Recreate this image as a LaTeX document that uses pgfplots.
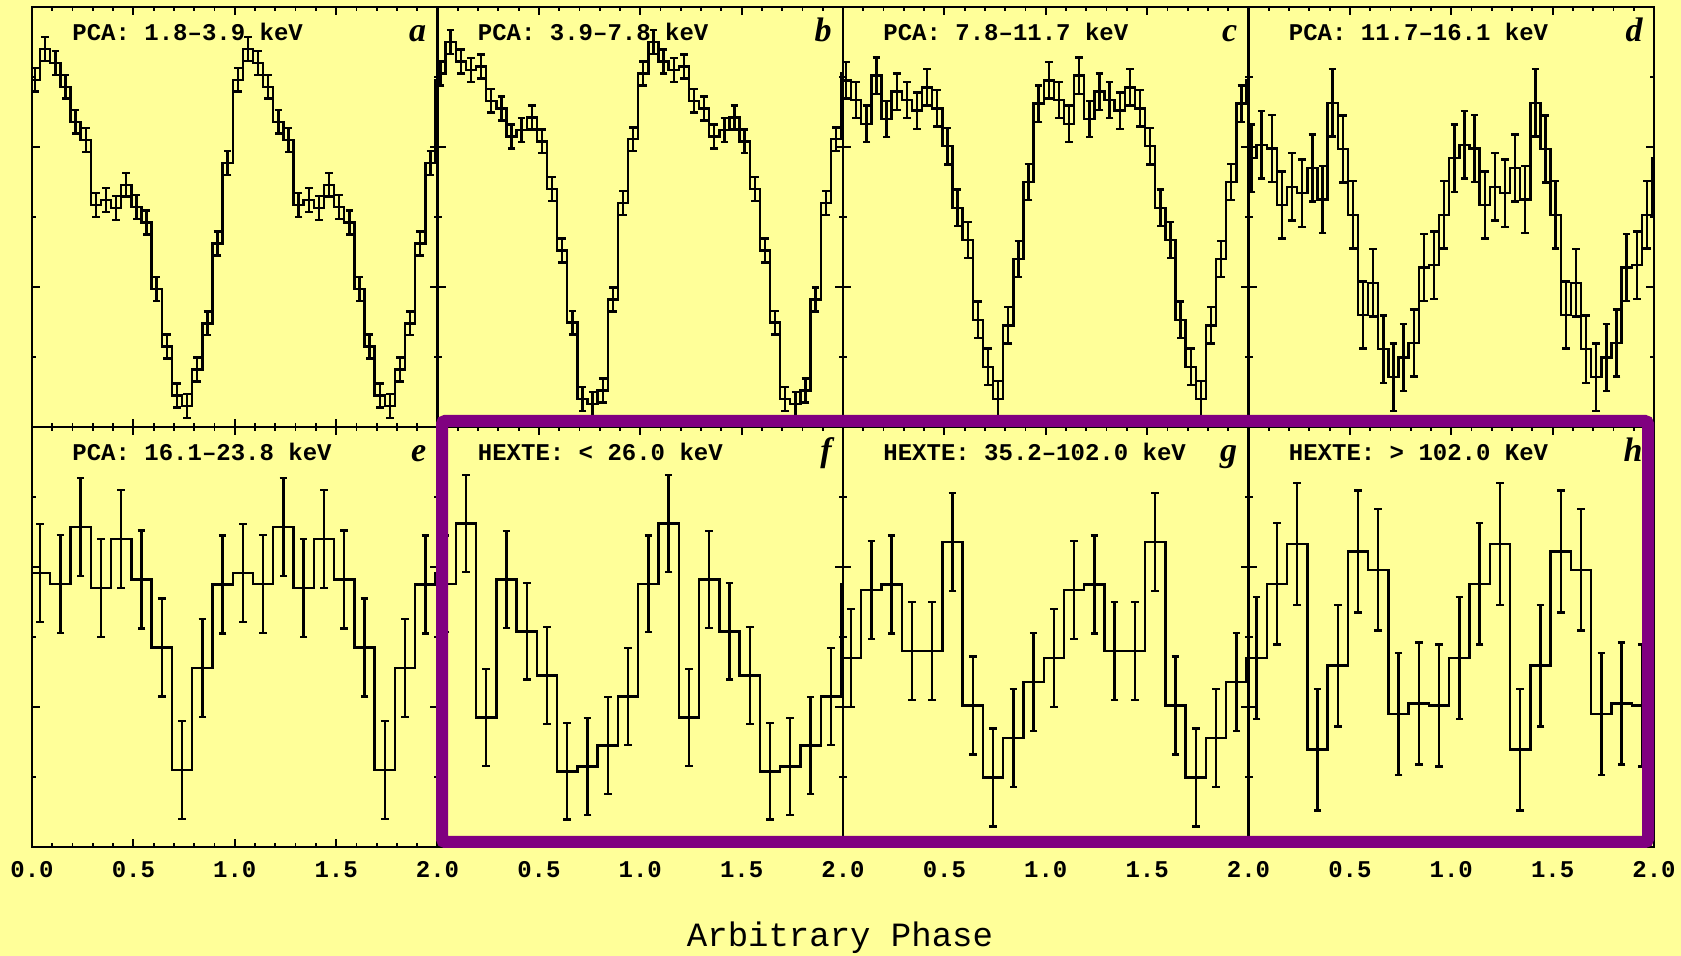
\documentclass[border=0pt]{standalone}
\usepackage{pgfplots}
\pgfplotsset{compat=1.18}
\usepackage{pgfplotstable}
\usepackage{fontspec}
\setmainfont{Liberation Mono}
\newfontfamily\lserif{Liberation Serif}
\definecolor{bgyel}{RGB}{255,255,153}
\definecolor{boxpurple}{RGB}{128,0,128}

% PCA panels a-d: 20 bins per cycle, two cycles (l = left bin edge, c = bin centre)
\pgfplotstableread{
l    c     ya   ea   yb   eb   yc   ec   yd   ed
0    0.015 4.96 0.17 5.05 0.17 4.95 0.26 3.84 0.48
0.04 0.065 5.40 0.17 5.50 0.17 4.67 0.26 4.03 0.48
0.09 0.115 5.20 0.17 5.22 0.17 4.33 0.26 3.98 0.48
0.14 0.165 4.86 0.17 5.10 0.17 5.02 0.26 3.17 0.48
0.19 0.215 4.36 0.17 5.15 0.17 4.40 0.26 3.43 0.48
0.24 0.265 4.10 0.17 4.66 0.17 4.79 0.26 3.34 0.48
0.29 0.315 3.17 0.17 4.55 0.17 4.67 0.26 3.70 0.48
0.34 0.365 3.24 0.17 4.15 0.17 4.52 0.26 3.25 0.48
0.39 0.415 3.13 0.17 4.24 0.17 4.85 0.26 4.63 0.48
0.44 0.465 3.46 0.17 4.42 0.17 4.55 0.26 3.97 0.48
0.49 0.515 3.14 0.17 4.08 0.17 4.01 0.26 3.03 0.48
0.54 0.565 2.92 0.17 3.40 0.17 3.13 0.26 1.60 0.48
0.59 0.615 1.97 0.17 2.52 0.17 2.67 0.26 2.06 0.48
0.64 0.665 1.15 0.17 1.49 0.17 1.53 0.26 1.11 0.48
0.69 0.715 0.45 0.17 0.40 0.17 0.86 0.26 0.71 0.48
0.74 0.765 0.30 0.17 0.33 0.17 0.40 0.26 0.99 0.48
0.79 0.815 0.82 0.17 0.52 0.17 1.45 0.26 1.20 0.48
0.84 0.865 1.48 0.17 1.82 0.17 2.40 0.26 2.28 0.48
0.89 0.915 2.62 0.17 3.20 0.17 3.50 0.26 2.31 0.48
0.94 0.965 3.77 0.17 4.11 0.17 4.62 0.26 3.03 0.48
0.99 1.015 4.96 0.17 5.05 0.17 4.95 0.26 3.84 0.48
1.04 1.065 5.40 0.17 5.50 0.17 4.67 0.26 4.03 0.48
1.09 1.115 5.20 0.17 5.22 0.17 4.33 0.26 3.98 0.48
1.14 1.165 4.86 0.17 5.10 0.17 5.02 0.26 3.17 0.48
1.19 1.215 4.36 0.17 5.15 0.17 4.40 0.26 3.43 0.48
1.24 1.265 4.10 0.17 4.66 0.17 4.79 0.26 3.34 0.48
1.29 1.315 3.17 0.17 4.55 0.17 4.67 0.26 3.70 0.48
1.34 1.365 3.24 0.17 4.15 0.17 4.52 0.26 3.25 0.48
1.39 1.415 3.13 0.17 4.24 0.17 4.85 0.26 4.63 0.48
1.44 1.465 3.46 0.17 4.42 0.17 4.55 0.26 3.97 0.48
1.49 1.515 3.14 0.17 4.08 0.17 4.01 0.26 3.03 0.48
1.54 1.565 2.92 0.17 3.40 0.17 3.13 0.26 1.60 0.48
1.59 1.615 1.97 0.17 2.52 0.17 2.67 0.26 2.06 0.48
1.64 1.665 1.15 0.17 1.49 0.17 1.53 0.26 1.11 0.48
1.69 1.715 0.45 0.17 0.40 0.17 0.86 0.26 0.71 0.48
1.74 1.765 0.30 0.17 0.33 0.17 0.40 0.26 0.99 0.48
1.79 1.815 0.82 0.17 0.52 0.17 1.45 0.26 1.20 0.48
1.84 1.865 1.48 0.17 1.82 0.17 2.40 0.26 2.28 0.48
1.89 1.915 2.62 0.17 3.20 0.17 3.50 0.26 2.31 0.48
1.94 1.965 3.77 0.17 4.11 0.17 4.62 0.26 3.03 0.48
1.99 nan   4.96 0    5.05 0    4.95 0    3.84 0
2    nan   4.96 0    5.05 0    4.95 0    3.84 0
}\pcatab

% PCA e and HEXTE f-h: 10 bins per cycle
\pgfplotstableread{
l    c    ye   ee   yf   ef   yg   eg   yh   eh
0    0.04 3.91 0.70 3.76 0.69 2.70 0.70 2.70 0.87
0.09 0.14 3.76 0.70 4.62 0.69 3.67 0.70 3.76 0.87
0.19 0.24 4.57 0.70 1.85 0.69 3.75 0.70 4.33 0.87
0.29 0.34 3.70 0.70 3.82 0.69 2.80 0.70 1.39 0.87
0.39 0.44 4.40 0.70 3.08 0.69 2.80 0.70 2.59 0.87
0.49 0.54 3.82 0.70 2.45 0.69 4.36 0.70 4.22 0.87
0.59 0.64 2.85 0.70 1.08 0.69 2.02 0.70 3.96 0.87
0.69 0.74 1.10 0.70 1.15 0.69 0.99 0.70 1.90 0.87
0.79 0.84 2.56 0.70 1.45 0.69 1.56 0.70 2.05 0.87
0.89 0.94 3.75 0.70 2.15 0.69 2.36 0.70 2.02 0.87
0.99 1.04 3.91 0.70 3.76 0.69 2.70 0.70 2.70 0.87
1.09 1.14 3.76 0.70 4.62 0.69 3.67 0.70 3.76 0.87
1.19 1.24 4.57 0.70 1.85 0.69 3.75 0.70 4.33 0.87
1.29 1.34 3.70 0.70 3.82 0.69 2.80 0.70 1.39 0.87
1.39 1.44 4.40 0.70 3.08 0.69 2.80 0.70 2.59 0.87
1.49 1.54 3.82 0.70 2.45 0.69 4.36 0.70 4.22 0.87
1.59 1.64 2.85 0.70 1.08 0.69 2.02 0.70 3.96 0.87
1.69 1.74 1.10 0.70 1.15 0.69 0.99 0.70 1.90 0.87
1.79 1.84 2.56 0.70 1.45 0.69 1.56 0.70 2.05 0.87
1.89 1.94 3.75 0.70 2.15 0.69 2.36 0.70 2.02 0.87
1.99 nan  3.91 0    3.76 0    2.70 0    2.70 0
2    nan  3.91 0    3.76 0    2.70 0    2.70 0
}\hextab

\pgfplotsset{
  panel/.style={
    anchor=south west, scale only axis,
    width=202.75pt, height=210pt,
    xmin=0, xmax=2, ymin=0, ymax=6,
    xtick={0,0.5,1,1.5,2}, minor x tick num=4,
    ytick={2,4}, minor ytick={1,3,5}, yticklabels={},
    tick align=inside, major tick length=4pt, minor tick length=2pt,
    axis line style={black, line width=1.3pt},
    tick style={black, line width=0.9pt},
    xticklabel style={font=\bfseries\fontsize{12}{12}\selectfont,
      anchor=base, inner sep=0pt, yshift=-15.5pt},
  },
  toprow/.style={xticklabels={}},
  steps/.style={black, line width=1.2pt, const plot mark left, mark=none},
  errs/.style={black, line width=1.2pt, only marks, mark=-, mark size=0pt,
    error bars/.cd, y dir=both, y explicit,
    error bar style={black, line width=1.2pt},
    error mark=-,
    error mark options={rotate=90, black, mark size=1.9pt, line width=1.2pt}},
}

% #1 x, #2 y, #3 table, #4 y column, #5 error column, #6 title, #7 letter, #8 extra options
\newcommand{\panel}[8]{%
\begin{axis}[panel, at={(#1,#2)}, #8]
  \addplot[steps] table[x=l, y=#4] {#3};
  \addplot[errs] table[x=c, y=#4, y error=#5] {#3};
  \node[anchor=base west, inner sep=0pt, xshift=20pt, yshift=-17pt,
    font=\bfseries\fontsize{12}{12}\selectfont] at (rel axis cs:0,1) {#6};
  \node[anchor=base east, inner sep=0pt, xshift=-5.5pt, yshift=-17.5pt,
    font=\lserif\bfseries\itshape\fontsize{17}{17}\selectfont] at (rel axis cs:1,1) {#7};
\end{axis}}

\begin{document}
\begin{tikzpicture}
\useasboundingbox (0,0) rectangle (840.5pt,478pt);
\fill[bgyel] (0,0) rectangle (840.5pt,478pt);

\panel{16pt}{264.5pt}{\pcatab}{ya}{ea}{PCA: 1.8–3.9 keV}{a}{toprow}
\panel{218.75pt}{264.5pt}{\pcatab}{yb}{eb}{PCA: 3.9–7.8 keV}{b}{toprow}
\panel{421.5pt}{264.5pt}{\pcatab}{yc}{ec}{PCA: 7.8–11.7 keV}{c}{toprow}
\panel{624.25pt}{264.5pt}{\pcatab}{yd}{ed}{PCA: 11.7–16.1 keV}{d}{toprow}

\panel{16pt}{54.5pt}{\hextab}{ye}{ee}{PCA: 16.1–23.8 keV}{e}{xticklabels={0.0,0.5,1.0,1.5,2.0}}
\panel{218.75pt}{54.5pt}{\hextab}{yf}{ef}{HEXTE: < 26.0 keV}{f}{xticklabels={,0.5,1.0,1.5,2.0}}
\panel{421.5pt}{54.5pt}{\hextab}{yg}{eg}{HEXTE: 35.2–102.0 keV}{g}{xticklabels={,0.5,1.0,1.5,2.0}}
\panel{624.25pt}{54.5pt}{\hextab}{yh}{eh}{HEXTE: > 102.0 KeV}{h}{xticklabels={,0.5,1.0,1.5,2.0}}

\draw[boxpurple, line width=6pt, rounded corners=1.5pt] (221pt,57pt) rectangle (824pt,267.5pt);

\node[anchor=base, inner sep=0pt, font=\fontsize{17}{17}\selectfont] at (420pt,4.5pt) {Arbitrary Phase};
\end{tikzpicture}
\end{document}
